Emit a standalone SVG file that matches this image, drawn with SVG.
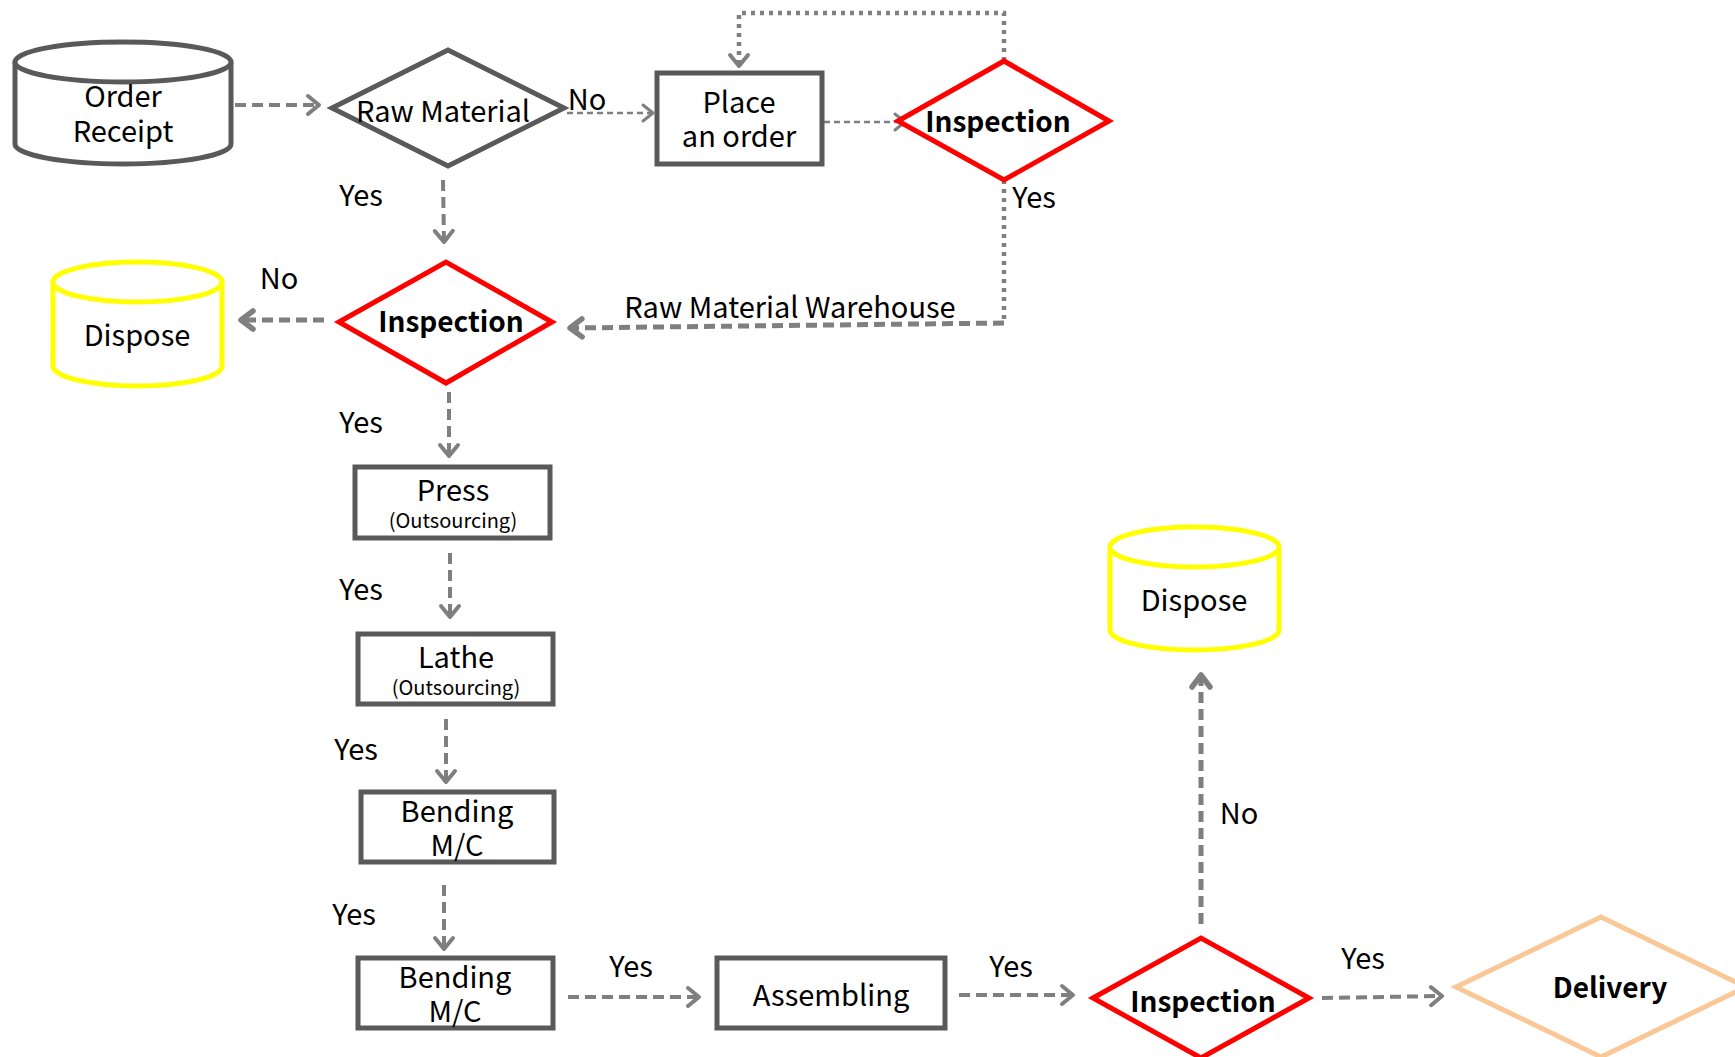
<svg xmlns="http://www.w3.org/2000/svg" width="1735" height="1057" viewBox="0 0 1735 1057">
<style>
text{font-family:"Noto Sans CJK KR","Noto Sans",sans-serif;fill:#000;text-anchor:middle}
.t{font-size:29px}
.s{font-size:20px}
.b{font-size:28px;font-weight:bold}
.box{fill:#fff;stroke:#595959;stroke-width:5}
.red{fill:#fff;stroke:#FF0000;stroke-width:5}
.yel{fill:#fff;stroke:#FFFF00;stroke-width:5}
.peach{fill:#fff;stroke:#FAC896;stroke-width:5}
.c{fill:none;stroke:#7F7F7F;stroke-width:4;stroke-dasharray:11 6}
.ct{fill:none;stroke:#7F7F7F;stroke-width:2.5;stroke-dasharray:6 4}
.cd{fill:none;stroke:#7F7F7F;stroke-width:4.5;stroke-dasharray:4 5}
</style>
<defs>
<marker id="ah" markerUnits="userSpaceOnUse" viewBox="0 0 24 24" refX="20" refY="12" markerWidth="24" markerHeight="24" orient="auto"><path d="M9,3 L20,12 L9,21" fill="none" stroke="#7F7F7F" stroke-width="4" stroke-linecap="round" stroke-linejoin="round"/></marker>
<marker id="ahb" markerUnits="userSpaceOnUse" viewBox="0 0 26 26" refX="22" refY="13" markerWidth="26" markerHeight="26" orient="auto"><path d="M10,4 L22,13 L10,22" fill="none" stroke="#7F7F7F" stroke-width="5.5" stroke-linecap="round" stroke-linejoin="round"/></marker>
<marker id="aht" markerUnits="userSpaceOnUse" viewBox="0 0 24 24" refX="20" refY="12" markerWidth="24" markerHeight="24" orient="auto"><path d="M10,4 L20,12 L10,20" fill="none" stroke="#7F7F7F" stroke-width="3" stroke-linecap="round" stroke-linejoin="round"/></marker>
</defs>

<g id="connectors">
<path class="c" d="M235,105 L319,105" marker-end="url(#ah)"/>
<path class="ct" d="M567,113 L653,113" marker-end="url(#aht)"/>
<path class="ct" d="M824,122 L905,122" marker-end="url(#aht)"/>
<path class="cd" d="M1004,61 L1004,13 L739,13 L739,66" marker-end="url(#ah)"/>
<path class="cd" d="M1004,180 L1004,323"/>
<path class="c" d="M1004,323 L570,328" marker-end="url(#ahb)" style="stroke-width:5"/>
<path class="c" d="M443,180 L444,242" marker-end="url(#ah)"/>
<path class="c" d="M324,320 L241,320" marker-end="url(#ahb)" style="stroke-width:5"/>
<path class="c" d="M449,392 L449,456" marker-end="url(#ah)"/>
<path class="c" d="M450,553 L450,617" marker-end="url(#ah)"/>
<path class="c" d="M446,719 L446,782" marker-end="url(#ah)"/>
<path class="c" d="M444,885 L444,949" marker-end="url(#ah)"/>
<path class="c" d="M568,997 L699,997" marker-end="url(#ah)"/>
<path class="c" d="M959,995 L1073,995" marker-end="url(#ah)"/>
<path class="c" d="M1201,924 L1201,675" marker-end="url(#ahb)" style="stroke-width:5"/>
<path class="c" d="M1322,998 L1442,996" marker-end="url(#ah)"/>
</g>

<g id="order-receipt">
<path class="box" d="M15,62 L15,144 A108,20 0 0 0 231,144 L231,62"/>
<ellipse class="box" cx="123" cy="62" rx="108" ry="20"/>
<text class="t" x="123" y="107">Order</text>
<text class="t" x="123" y="142">Receipt</text>
</g>

<g id="raw-material">
<polygon class="box" points="332,108 448,50 564,108 448,166"/>
<text class="t" x="443" y="122">Raw Material</text>
</g>

<g id="place-order">
<rect class="box" x="657" y="73" width="165" height="91"/>
<text class="t" x="739" y="113">Place</text>
<text class="t" x="739" y="147">an order</text>
</g>

<g id="inspection-1">
<polygon class="red" points="898,121 1004,61 1109,121 1004,180"/>
<text class="b" x="998" y="132">Inspection</text>
</g>

<g id="inspection-2">
<polygon class="red" points="339,322 446,262 552,322 446,383"/>
<text class="b" x="451" y="332">Inspection</text>
</g>

<g id="dispose-1">
<path class="yel" d="M53,282 L53,366 A84.5,20 0 0 0 222,366 L222,282"/>
<ellipse class="yel" cx="137.5" cy="282" rx="84.5" ry="20"/>
<text class="t" x="137" y="346">Dispose</text>
</g>

<g id="press">
<rect class="box" x="355" y="467" width="195" height="71"/>
<text class="t" x="453" y="501">Press</text>
<text class="s" x="453" y="528">(Outsourcing)</text>
</g>

<g id="lathe">
<rect class="box" x="358" y="634" width="195" height="70"/>
<text class="t" x="456" y="668">Lathe</text>
<text class="s" x="456" y="695">(Outsourcing)</text>
</g>

<g id="bending-1">
<rect class="box" x="361" y="792" width="193" height="70"/>
<text class="t" x="457" y="822">Bending</text>
<text class="t" x="457" y="856">M/C</text>
</g>

<g id="bending-2">
<rect class="box" x="358" y="958" width="195" height="70"/>
<text class="t" x="455" y="988">Bending</text>
<text class="t" x="455" y="1022">M/C</text>
</g>

<g id="assembling">
<rect class="box" x="717" y="958" width="228" height="70"/>
<text class="t" x="831" y="1006">Assembling</text>
</g>

<g id="inspection-3">
<polygon class="red" points="1093,998 1201,938 1309,998 1201,1058"/>
<text class="b" x="1203" y="1012">Inspection</text>
</g>

<g id="dispose-2">
<path class="yel" d="M1110,547 L1110,630 A84.5,20 0 0 0 1279,630 L1279,547"/>
<ellipse class="yel" cx="1194.5" cy="547" rx="84.5" ry="20"/>
<text class="t" x="1194" y="611">Dispose</text>
</g>

<g id="delivery">
<polygon class="peach" points="1456,987 1601,917 1746,987 1601,1057"/>
<text class="b" x="1610" y="998">Delivery</text>
</g>

<g id="labels">
<text class="t" x="587" y="110">No</text>
<text class="t" x="1034" y="208">Yes</text>
<text class="t" x="790" y="318">Raw Material Warehouse</text>
<text class="t" x="361" y="206">Yes</text>
<text class="t" x="279" y="289">No</text>
<text class="t" x="361" y="433">Yes</text>
<text class="t" x="361" y="600">Yes</text>
<text class="t" x="356" y="760">Yes</text>
<text class="t" x="354" y="925">Yes</text>
<text class="t" x="631" y="977">Yes</text>
<text class="t" x="1011" y="977">Yes</text>
<text class="t" x="1239" y="824">No</text>
<text class="t" x="1363" y="969">Yes</text>
</g>
</svg>
